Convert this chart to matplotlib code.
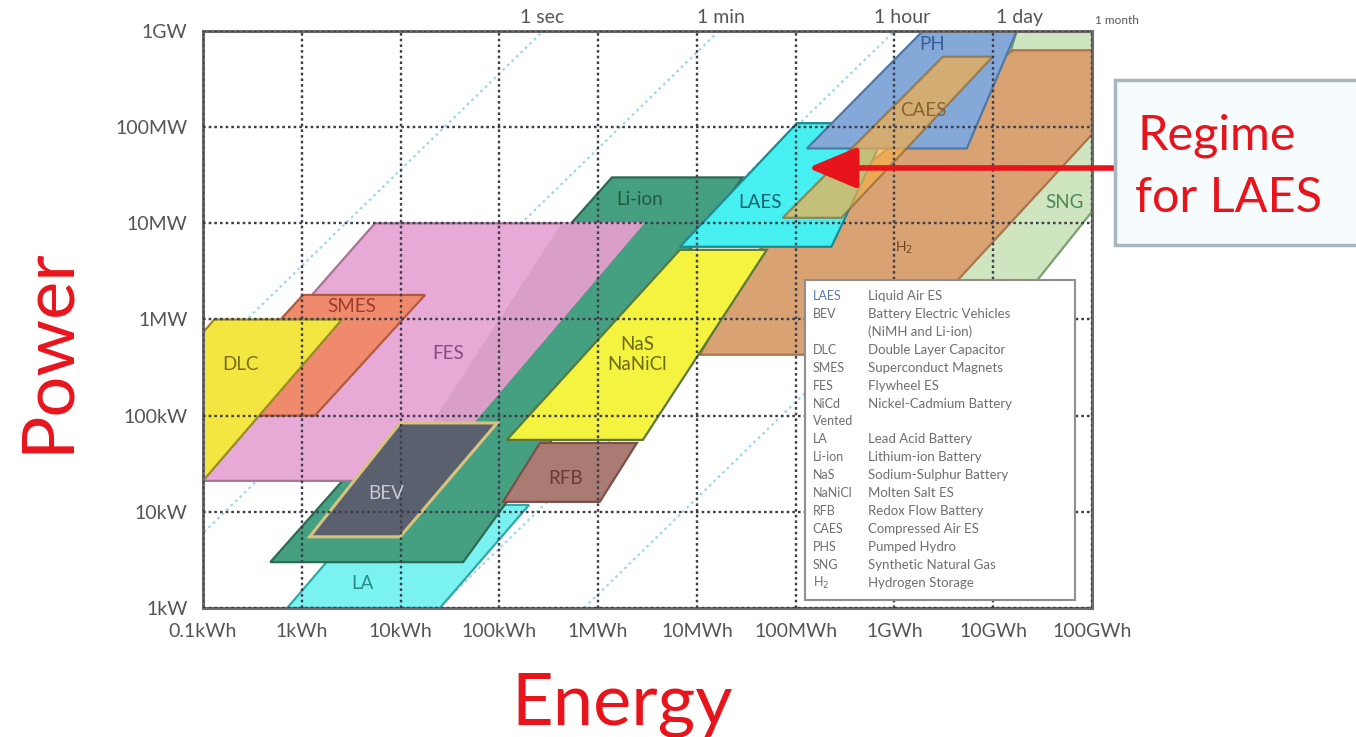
import matplotlib.pyplot as plt
from matplotlib.patches import Polygon, Rectangle
from matplotlib.ticker import FixedLocator, NullLocator

plt.rcParams['font.family'] = ['Lato', 'DejaVu Sans']

RED = '#e8141c'

# axes: energy in kWh, power in kW
energy_ticks = [0.1, 1, 10, 1e2, 1e3, 1e4, 1e5, 1e6, 1e7, 1e8]
energy_labels = ['0.1kWh', '1kWh', '10kWh', '100kWh', '1MWh', '10MWh',
                 '100MWh', '1GWh', '10GWh', '100GWh']
power_ticks = [1, 10, 100, 1e3, 1e4, 1e5, 1e6]
power_labels = ['1kW', '10kW', '100kW', '1MW', '10MW', '100MW', '1GW']

# constant discharge-time lines (hours) and where their names sit
durations = [1 / 3600, 1 / 60, 1, 24, 720]
duration_names = ['1 sec', '1 min', '1 hour', '1 day', '1 month']
duration_label_e = [270, 1.75e4, 1.2e6, 1.85e7, 1.8e8]

# technology regions: corner energies (kWh) and powers (kW)
sng_e = [2.9e6, 2.3e7, 2.9e9, 1.73e7]
sng_p = [2000, 2000, 1e6, 1e6]
h2_e = [1.07e4, 8.8e5, 6.1e8, 1.58e7, 4.3e4]
h2_p = [430, 430, 6.3e5, 6.3e5, 5300]
la_e = [0.71, 25, 200, 5.6]
la_p = [1.0, 1.0, 11.8, 11.8]
liion_e = [0.48, 43, 2.9e4, 1380]
liion_p = [3.0, 3.0, 3.0e4, 3.0e4]
fes_e = [0.028, 17, 2840, 5.5]
fes_p = [21, 21, 1e4, 1e4]
fes2_e = [9.0, 17, 2840, 440]
fes2_p = [21, 21, 1e4, 1e4]
smes_e = [0.079, 1.36, 17.7, 1.03]
smes_p = [100, 100, 1800, 1800]
dlc_e = [0.0052, 0.1, 2.55, 0.13]
dlc_p = [21, 21, 1000, 1000]
bev_e = [1.2, 9.9, 95, 9.9]
bev_p = [5.5, 5.5, 84, 84]
rfb_e = [109, 1040, 2470, 258]
rfb_p = [12.7, 12.7, 52, 52]
nas_e = [119, 2840, 5.1e4, 6730]
nas_p = [56, 56, 5300, 5300]
laes_e = [6730, 2.3e5, 9.0e5, 1.03e5]
laes_p = [5700, 5700, 1.1e5, 1.1e5]
ph_e = [1.3e5, 5.4e6, 1.73e7, 1.94e6]
ph_p = [6.0e4, 6.0e4, 1e6, 1e6]
caes_e = [7.4e4, 2.9e5, 9.9e6, 3.1e6]
caes_p = [1.14e4, 1.14e4, 5.4e5, 5.4e5]

# region names and their positions
region_names = ['DLC', 'SMES', 'FES', 'BEV', 'LA', 'Li-ion', 'NaS\nNaNiCl', 'RFB',
                'LAES', 'PH', 'CAES', 'H$_2$', 'SNG']
region_label_e = [0.24, 3.2, 30, 7.1, 4.1, 2650, 2470, 470, 4.4e4, 2.4e6, 1.94e6, 1.24e6, 5.3e7]
region_label_p = [340, 1350, 440, 15.4, 1.8, 1.75e4, 430, 22, 1.63e4, 7.3e5, 1.5e5, 5500, 1.63e4]

# key box entries
key_abbr = ['LAES', 'BEV', '', 'DLC', 'SMES', 'FES', 'NiCd', 'Vented', 'LA', 'Li-ion',
            'NaS', 'NaNiCl', 'RFB', 'CAES', 'PHS', 'SNG', 'H$_2$']
key_desc = ['Liquid Air ES', 'Battery Electric Vehicles', '(NiMH and Li-ion)',
            'Double Layer Capacitor', 'Superconduct Magnets', 'Flywheel ES',
            'Nickel-Cadmium Battery', '', 'Lead Acid Battery', 'Lithium-ion Battery',
            'Sodium-Sulphur Battery', 'Molten Salt ES', 'Redox Flow Battery',
            'Compressed Air ES', 'Pumped Hydro', 'Synthetic Natural Gas', 'Hydrogen Storage']

fig = plt.figure(figsize=(13.56, 7.37), dpi=100)
ax = fig.add_axes([0.1497, 0.175, 0.6556, 0.783])
ax.set_xscale('log')
ax.set_yscale('log')
ax.set_xlim(0.1, 1e8)
ax.set_ylim(1, 1e6)

# discharge-time diagonals
for t in durations:
    p = [1e-3, 1e7]
    ax.plot([v * t for v in p], p, color='#9fd6ee', lw=1.6,
            linestyle=(0, (1.2, 1.6)), zorder=1.5)
for name, e in zip(duration_names, duration_label_e):
    small = name == '1 month'
    ax.text(e, 1.008, name, transform=ax.get_xaxis_transform(), ha='center',
            va='bottom', fontsize=8.5 if small else 14, color='#555555', clip_on=False)

regions = [
    (sng_e, sng_p, '#cfe5bf', '#7aa070', 1.0),
    (h2_e, h2_p, '#d9a272', '#a8754c', 1.0),
    (la_e, la_p, '#7af2f2', '#2fa8a8', 1.0),
    (liion_e, liion_p, '#45a081', '#2c6a54', 1.0),
    (fes_e, fes_p, '#e7aad6', '#a87494', 1.0),
    (fes2_e, fes2_p, '#da9fc9', '#da9fc9', 1.0),
    (smes_e, smes_p, '#f08a6c', '#b05a40', 1.0),
    (dlc_e, dlc_p, '#f4e640', '#9a8a2a', 1.0),
    (bev_e, bev_p, '#5b606f', '#d8c37c', 1.0),
    (rfb_e, rfb_p, '#a97b73', '#7a5048', 1.0),
    (nas_e, nas_p, '#f3f340', '#5a7a3a', 1.0),
    (laes_e, laes_p, '#46f0f0', '#1e8a90', 1.0),
    (ph_e, ph_p, '#84a9d9', '#4f78a6', 1.0),
    (caes_e, caes_p, '#f3ae4c', '#8a6a3a', 0.72),
]
for e, p, face, edge, alpha in regions:
    lw = 2.2 if face == '#5b606f' else 1.6
    ax.add_patch(Polygon(list(zip(e, p)), closed=True, facecolor=face,
                         edgecolor=edge, lw=lw, alpha=alpha, zorder=2))

label_colors = ['#7a6c1a', '#9c3c2a', '#8a4a80', '#c9cbd3', '#2a8a8a', '#23573f',
                '#6a6a14', '#6a3a30', '#1b6070', '#3b5c9a', '#86642c', '#6e4420', '#4a8a5a']
for name, e, p, c in zip(region_names, region_label_e, region_label_p, label_colors):
    size = 10 if name.startswith('H') else 13.5
    ax.text(e, p, name, ha='center', va='center', fontsize=size, color=c,
            linespacing=1.25, zorder=3)

# grid and frame
ax.xaxis.set_major_locator(FixedLocator(energy_ticks))
ax.yaxis.set_major_locator(FixedLocator(power_ticks))
ax.xaxis.set_minor_locator(NullLocator())
ax.yaxis.set_minor_locator(NullLocator())
ax.set_xticklabels(energy_labels)
ax.set_yticklabels(power_labels)
ax.tick_params(length=0, labelsize=14, labelcolor='#555555')
ax.tick_params(axis='x', pad=11)
ax.tick_params(axis='y', pad=11)
ax.set_axisbelow(False)
ax.grid(True, color='#3c3c4a', linestyle=(0, (1.1, 1.3)), lw=1.7)
for s in ax.spines.values():
    s.set_color('#6a6a6a')
    s.set_linewidth(2.2)

# key box
ax.add_patch(Rectangle((0.677, 0.014), 0.304, 0.554, transform=ax.transAxes,
                       facecolor='white', edgecolor='#8e8e8e', lw=1.5, zorder=4))
for i, (a, d) in enumerate(zip(key_abbr, key_desc)):
    y = 0.541 - i * 0.0311
    ax.text(0.686, y, a, transform=ax.transAxes, fontsize=9,
            color='#5b78a8' if i == 0 else '#6e6e6e', va='center', zorder=5)
    ax.text(0.748, y, d, transform=ax.transAxes, fontsize=9.5, color='#6e6e6e',
            va='center', zorder=5)

# axis titles
fig.text(0.035, 0.525, 'Power', rotation=90, fontsize=52, color=RED,
         ha='center', va='center')
fig.text(0.459, 0.016, 'Energy', fontsize=52, color=RED, ha='center', va='baseline')

# callout for the LAES regime
ax.annotate('', xy=(1.33e5, 3.77e4), xycoords='data', xytext=(0.823, 0.772),
            textcoords='figure fraction', annotation_clip=False, zorder=6,
            arrowprops=dict(arrowstyle='-|>,head_length=1.0,head_width=0.42',
                            color=RED, lw=4, mutation_scale=30, shrinkA=0, shrinkB=0))
fig.patches.append(Rectangle((0.8223, 0.6676), 0.19, 0.2239, transform=fig.transFigure,
                             facecolor='#f6fbfd', edgecolor='#a7b6bf', lw=2.5))
fig.text(0.839, 0.7965, 'Regime', fontsize=35, color=RED, ha='left', va='baseline')
fig.text(0.837, 0.7123, 'for LAES', fontsize=35, color=RED, ha='left', va='baseline')

fig.savefig('out.png', dpi=100)
